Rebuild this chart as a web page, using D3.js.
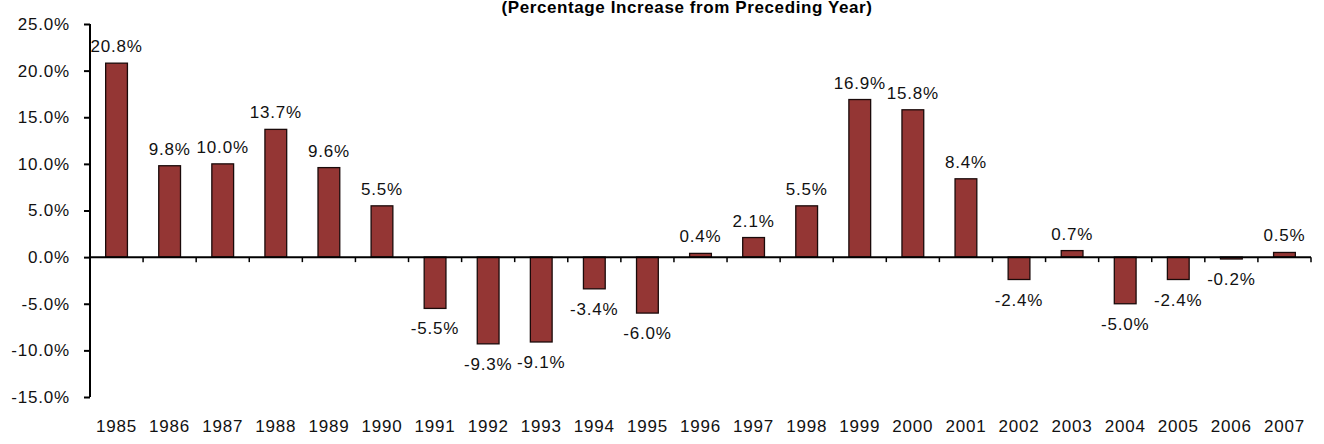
<!DOCTYPE html>
<html lang="en">
<head>
<meta charset="utf-8">
<script src="https://d3js.org/d3.v7.min.js"></script>
<style type="text/css">
  body {
    margin: 0;
    background: #fff;
    font-family: Arial, "Liberation Sans", sans-serif;
  }
  .axis text {
    font-size: 17px;
    letter-spacing: 0.8px;
    fill: #111;
  }
</style>
</head>
<body>
<script type="text/javascript">

  // chart data
  var years = ["1985", "1986", "1987", "1988", "1989", "1990", "1991", "1992", "1993", "1994", "1995", "1996",
               "1997", "1998", "1999", "2000", "2001", "2002", "2003", "2004", "2005", "2006", "2007"];
  var increase = [20.8, 9.8, 10.0, 13.7, 9.6, 5.5, -5.5, -9.3, -9.1, -3.4, -6.0, 0.4,
                  2.1, 5.5, 16.9, 15.8, 8.4, -2.4, 0.7, -5.0, -2.4, -0.2, 0.5];
  var yTicks = [-15, -10, -5, 0, 5, 10, 15, 20, 25];
  var title = "(Percentage Increase from Preceding Year)";

  var width = 1324;
  var height = 444;
  var plotLeft = 90, plotRight = 1311, plotTop = 24, plotBottom = 397;

  var svg = d3.select("body")
    .append("svg")
    .attr("width", width)
    .attr("height", height);

  var x = d3.scaleBand()
    .domain(years)
    .range([plotLeft, plotRight])
    .paddingInner(0.59)
    .paddingOuter(0.295);

  var y = d3.scaleLinear()
    .domain([-15, 25])
    .range([plotBottom, plotTop]);

  // title (clipped at top in the original)
  svg.append("text")
    .attr("x", 687)
    .attr("y", 12.5)
    .attr("text-anchor", "middle")
    .style("font-size", "17px")
    .style("font-weight", "bold")
    .style("letter-spacing", "0.6px")
    .style("fill", "#000")
    .text(title);

  // bars
  svg.selectAll("rect.bar")
    .data(increase)
    .enter()
    .append("rect")
    .attr("class", "bar")
    .attr("x", function(d, i) { return x(years[i]); })
    .attr("y", function(d) { return y(Math.max(0, d)); })
    .attr("width", x.bandwidth())
    .attr("height", function(d) { return Math.abs(y(d) - y(0)); })
    .style("fill", "#943634")
    .style("stroke", "#1a0a0a")
    .style("stroke-width", 1.3);

  // value labels
  svg.selectAll("text.label")
    .data(increase)
    .enter()
    .append("text")
    .attr("class", "label")
    .attr("x", function(d, i) { return x(years[i]) + x.bandwidth() / 2; })
    .attr("y", function(d) { return d >= 0 ? y(d) - 11 : y(d) + 26; })
    .attr("text-anchor", "middle")
    .style("font-size", "17px")
    .style("letter-spacing", "0.8px")
    .style("fill", "#111")
    .text(function(d) { return d.toFixed(1) + "%"; });

  // y axis
  var yAxis = svg.append("g")
    .attr("class", "axis")
    .attr("transform", "translate(" + plotLeft + ",0)")
    .call(d3.axisLeft(y).tickValues(yTicks).tickSize(6).tickPadding(14)
      .tickFormat(function(d) { return d.toFixed(1) + "%"; }));
  yAxis.select(".domain").attr("d", "M0," + plotTop + "V" + plotBottom).style("stroke", "#000").style("stroke-width", 2);
  yAxis.selectAll(".tick line").style("stroke", "#000").style("stroke-width", 2);

  // x axis line at zero, ticks between categories
  var xLine = svg.append("g").attr("class", "axis");
  xLine.append("line")
    .attr("x1", plotLeft).attr("x2", plotRight)
    .attr("y1", y(0)).attr("y2", y(0))
    .style("stroke", "#000").style("stroke-width", 2);
  var step = x.step();
  xLine.selectAll("line.tk")
    .data(years)
    .enter()
    .append("line")
    .attr("class", "tk")
    .attr("x1", function(d) { return x(d) - x.paddingInner() * step / 2 + step; })
    .attr("x2", function(d) { return x(d) - x.paddingInner() * step / 2 + step; })
    .attr("y1", y(0)).attr("y2", y(0) + 5)
    .style("stroke", "#000").style("stroke-width", 1.5);

  // year labels along the bottom
  xLine.selectAll("text.yr")
    .data(years)
    .enter()
    .append("text")
    .attr("class", "yr")
    .attr("x", function(d) { return x(d) + x.bandwidth() / 2; })
    .attr("y", 432)
    .attr("text-anchor", "middle")
    .text(function(d) { return d; });
</script>
</body>
</html>
